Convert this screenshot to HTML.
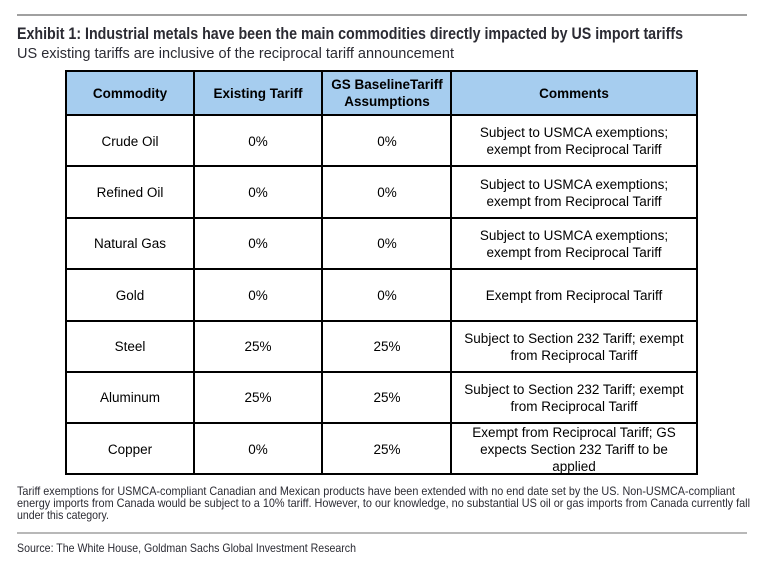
<!DOCTYPE html>
<html><head><meta charset="utf-8"><style>
html,body{margin:0;padding:0;background:#fff;}
svg{display:block;}
text{font-family:"Liberation Sans",Arial,sans-serif;}
.c{font-size:13.5px;fill:#000;text-anchor:middle;}
.h{font-size:13.5px;font-weight:bold;fill:#000;text-anchor:middle;}
.n{font-family:"Liberation Sans Narrow","Liberation Sans",sans-serif;}
</style></head><body>
<svg width="774" height="568" viewBox="0 0 774 568" xmlns="http://www.w3.org/2000/svg">
<line x1="17" y1="15" x2="747" y2="15" stroke="#808080" stroke-width="1.5"/>
<text class="n" x="17" y="39" font-size="16.5" font-weight="bold" fill="#2b2b33" textLength="666" lengthAdjust="spacingAndGlyphs">Exhibit 1: Industrial metals have been the main commodities directly impacted by US import tariffs</text>
<text class="n" x="17" y="58" font-size="15" fill="#2b2b33" textLength="437" lengthAdjust="spacingAndGlyphs">US existing tariffs are inclusive of the reciprocal tariff announcement</text>

<rect x="66" y="71" width="631" height="44" fill="#a6cdef"/>
<g stroke="#000" stroke-width="2" fill="none">
<rect x="66" y="71" width="631" height="403"/>
<line x1="194" y1="71" x2="194" y2="474"/>
<line x1="322" y1="71" x2="322" y2="474"/>
<line x1="451" y1="71" x2="451" y2="474"/>
<line x1="66" y1="115" x2="697" y2="115"/>
<line x1="66" y1="166" x2="697" y2="166"/>
<line x1="66" y1="218" x2="697" y2="218"/>
<line x1="66" y1="269" x2="697" y2="269"/>
<line x1="66" y1="321" x2="697" y2="321"/>
<line x1="66" y1="372" x2="697" y2="372"/>
<line x1="66" y1="423" x2="697" y2="423"/>
</g>
<text class="h" x="130" y="98">Commodity</text>
<text class="h" x="258" y="98">Existing Tariff</text>
<text class="h" x="387" y="89">GS BaselineTariff</text>
<text class="h" x="387" y="106">Assumptions</text>
<text class="h" x="574" y="98">Comments</text>

<text class="c" x="130" y="146">Crude Oil</text><text class="c" x="258" y="146">0%</text><text class="c" x="387" y="146">0%</text>
<text class="c" x="574" y="137">Subject to USMCA exemptions;</text><text class="c" x="574" y="154">exempt from Reciprocal Tariff</text>

<text class="c" x="130" y="197">Refined Oil</text><text class="c" x="258" y="197">0%</text><text class="c" x="387" y="197">0%</text>
<text class="c" x="574" y="189">Subject to USMCA exemptions;</text><text class="c" x="574" y="206">exempt from Reciprocal Tariff</text>

<text class="c" x="130" y="248">Natural Gas</text><text class="c" x="258" y="248">0%</text><text class="c" x="387" y="248">0%</text>
<text class="c" x="574" y="240">Subject to USMCA exemptions;</text><text class="c" x="574" y="257">exempt from Reciprocal Tariff</text>

<text class="c" x="130" y="300">Gold</text><text class="c" x="258" y="300">0%</text><text class="c" x="387" y="300">0%</text>
<text class="c" x="574" y="300">Exempt from Reciprocal Tariff</text>

<text class="c" x="130" y="351">Steel</text><text class="c" x="258" y="351">25%</text><text class="c" x="387" y="351">25%</text>
<text class="c" x="574" y="343">Subject to Section 232 Tariff; exempt</text><text class="c" x="574" y="360">from Reciprocal Tariff</text>

<text class="c" x="130" y="402">Aluminum</text><text class="c" x="258" y="402">25%</text><text class="c" x="387" y="402">25%</text>
<text class="c" x="574" y="394">Subject to Section 232 Tariff; exempt</text><text class="c" x="574" y="411">from Reciprocal Tariff</text>

<text class="c" x="130" y="454">Copper</text><text class="c" x="258" y="454">0%</text><text class="c" x="387" y="454">25%</text>
<text class="c" x="574" y="437">Exempt from Reciprocal Tariff; GS</text><text class="c" x="574" y="454">expects Section 232 Tariff to be</text><text class="c" x="574" y="471">applied</text>

<text class="n" x="17" y="495" font-size="12" fill="#2b2b33" textLength="718" lengthAdjust="spacingAndGlyphs">Tariff exemptions for USMCA-compliant Canadian and Mexican products have been extended with no end date set by the US. Non-USMCA-compliant</text>
<text class="n" x="17" y="507" font-size="12" fill="#2b2b33" textLength="733" lengthAdjust="spacingAndGlyphs">energy imports from Canada would be subject to a 10% tariff. However, to our knowledge, no substantial US oil or gas imports from Canada currently fall</text>
<text class="n" x="17" y="519" font-size="12" fill="#2b2b33" textLength="92" lengthAdjust="spacingAndGlyphs">under this category.</text>
<line x1="17" y1="533" x2="747" y2="533" stroke="#b8b8b8" stroke-width="2"/>
<text class="n" x="17" y="552" font-size="12" fill="#2b2b33" textLength="339" lengthAdjust="spacingAndGlyphs">Source: The White House, Goldman Sachs Global Investment Research</text>
</svg>
</body></html>
